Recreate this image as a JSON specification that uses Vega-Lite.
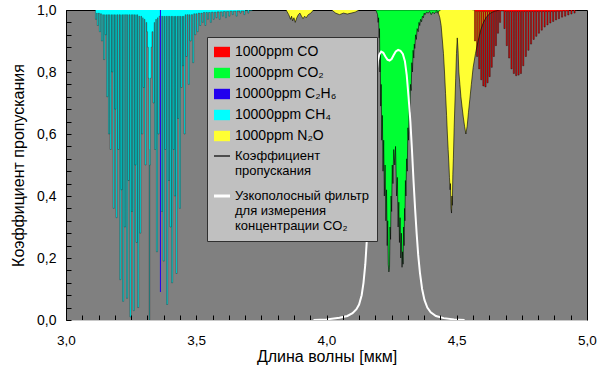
{
  "$schema": "https://vega.github.io/schema/vega-lite/v6.json",
  "width": 521,
  "height": 310,
  "autosize": {"type": "none"},
  "padding": {"left": 66, "top": 10, "right": 13, "bottom": 63},
  "background": "#ffffff",
  "config": {
    "font": "Liberation Sans",
    "view": {"fill": "#808080", "stroke": "#000000", "strokeWidth": 1},
    "axis": {"labelFont": "Liberation Sans", "titleFont": "Liberation Sans", "labelColor": "#000000", "titleColor": "#000000", "grid": false, "labelOverlap": false, "ticks": true}
  },
  "data": {"values": [
    {"g":"CH4","x":3.100,"t":1},
    {"g":"CH4","x":3.113,"t":0.97},{"g":"CH4","x":3.1175,"t":0.99},
    {"g":"CH4","x":3.120,"t":0.95},{"g":"CH4","x":3.1245,"t":0.99},
    {"g":"CH4","x":3.128,"t":0.93},{"g":"CH4","x":3.1325,"t":0.988},
    {"g":"CH4","x":3.136,"t":0.90},{"g":"CH4","x":3.1405,"t":0.985},
    {"g":"CH4","x":3.144,"t":0.84},{"g":"CH4","x":3.1485,"t":0.985},
    {"g":"CH4","x":3.150,"t":0.92},{"g":"CH4","x":3.1545,"t":0.985},
    {"g":"CH4","x":3.156,"t":0.72},{"g":"CH4","x":3.1605,"t":0.985},
    {"g":"CH4","x":3.163,"t":0.60},{"g":"CH4","x":3.1675,"t":0.985},
    {"g":"CH4","x":3.169,"t":0.55},{"g":"CH4","x":3.1735,"t":0.985},
    {"g":"CH4","x":3.175,"t":0.80},{"g":"CH4","x":3.1795,"t":0.985},
    {"g":"CH4","x":3.181,"t":0.36},{"g":"CH4","x":3.1855,"t":0.985},
    {"g":"CH4","x":3.187,"t":0.68},{"g":"CH4","x":3.1915,"t":0.985},
    {"g":"CH4","x":3.192,"t":0.33},{"g":"CH4","x":3.1965,"t":0.985},
    {"g":"CH4","x":3.199,"t":0.55},{"g":"CH4","x":3.2035,"t":0.985},
    {"g":"CH4","x":3.206,"t":0.13},{"g":"CH4","x":3.2105,"t":0.985},
    {"g":"CH4","x":3.211,"t":0.42},{"g":"CH4","x":3.2155,"t":0.985},
    {"g":"CH4","x":3.217,"t":0.06},{"g":"CH4","x":3.2215,"t":0.985},
    {"g":"CH4","x":3.224,"t":0.30},{"g":"CH4","x":3.2285,"t":0.985},
    {"g":"CH4","x":3.232,"t":0.07},{"g":"CH4","x":3.2365,"t":0.985},
    {"g":"CH4","x":3.238,"t":0.45},{"g":"CH4","x":3.2425,"t":0.985},
    {"g":"CH4","x":3.245,"t":0.01},{"g":"CH4","x":3.2495,"t":0.985},
    {"g":"CH4","x":3.251,"t":0.35},{"g":"CH4","x":3.2555,"t":0.985},
    {"g":"CH4","x":3.258,"t":0.03},{"g":"CH4","x":3.2625,"t":0.985},
    {"g":"CH4","x":3.264,"t":0.50},{"g":"CH4","x":3.2685,"t":0.985},
    {"g":"CH4","x":3.269,"t":0.25},{"g":"CH4","x":3.2735,"t":0.985},
    {"g":"CH4","x":3.275,"t":0.04},{"g":"CH4","x":3.2795,"t":0.98},
    {"g":"CH4","x":3.283,"t":0.28},{"g":"CH4","x":3.2875,"t":0.98},
    {"g":"CH4","x":3.290,"t":0.60},{"g":"CH4","x":3.2945,"t":0.975},
    {"g":"CH4","x":3.296,"t":0.75},{"g":"CH4","x":3.3005,"t":0.97},
    {"g":"CH4","x":3.303,"t":0.50},{"g":"CH4","x":3.3075,"t":0.96},
    {"g":"CH4","x":3.310,"t":0.93},{"g":"CH4","x":3.313,"t":0.88},{"g":"CH4","x":3.316,"t":0.78},{"g":"CH4","x":3.3185,"t":0.55},
    {"g":"CH4","x":3.3195,"t":0.0},{"g":"CH4","x":3.3215,"t":0.5},{"g":"CH4","x":3.324,"t":0.78},{"g":"CH4","x":3.327,"t":0.88},{"g":"CH4","x":3.330,"t":0.93},
    {"g":"CH4","x":3.334,"t":0.70},{"g":"CH4","x":3.3385,"t":0.96},
    {"g":"CH4","x":3.340,"t":0.55},{"g":"CH4","x":3.3445,"t":0.97},
    {"g":"CH4","x":3.347,"t":0.22},{"g":"CH4","x":3.3515,"t":0.975},
    {"g":"CH4","x":3.353,"t":0.60},{"g":"CH4","x":3.3575,"t":0.98},
    {"g":"CH4","x":3.366,"t":0.35},{"g":"CH4","x":3.3705,"t":0.98},
    {"g":"CH4","x":3.373,"t":0.19},{"g":"CH4","x":3.3775,"t":0.98},
    {"g":"CH4","x":3.379,"t":0.55},{"g":"CH4","x":3.3835,"t":0.98},
    {"g":"CH4","x":3.386,"t":0.05},{"g":"CH4","x":3.3905,"t":0.98},
    {"g":"CH4","x":3.393,"t":0.45},{"g":"CH4","x":3.3975,"t":0.98},
    {"g":"CH4","x":3.399,"t":0.30},{"g":"CH4","x":3.4035,"t":0.98},
    {"g":"CH4","x":3.405,"t":0.12},{"g":"CH4","x":3.4095,"t":0.98},
    {"g":"CH4","x":3.411,"t":0.55},{"g":"CH4","x":3.4155,"t":0.98},
    {"g":"CH4","x":3.416,"t":0.40},{"g":"CH4","x":3.4205,"t":0.98},
    {"g":"CH4","x":3.422,"t":0.15},{"g":"CH4","x":3.4265,"t":0.98},
    {"g":"CH4","x":3.428,"t":0.65},{"g":"CH4","x":3.4325,"t":0.98},
    {"g":"CH4","x":3.435,"t":0.36},{"g":"CH4","x":3.4395,"t":0.98},
    {"g":"CH4","x":3.441,"t":0.75},{"g":"CH4","x":3.4455,"t":0.98},
    {"g":"CH4","x":3.447,"t":0.82},{"g":"CH4","x":3.4515,"t":0.98},
    {"g":"CH4","x":3.453,"t":0.60},{"g":"CH4","x":3.4575,"t":0.985},
    {"g":"CH4","x":3.460,"t":0.85},{"g":"CH4","x":3.4645,"t":0.985},
    {"g":"CH4","x":3.469,"t":0.76},{"g":"CH4","x":3.4735,"t":0.985},
    {"g":"CH4","x":3.476,"t":0.90},{"g":"CH4","x":3.4805,"t":0.985},
    {"g":"CH4","x":3.486,"t":0.83},{"g":"CH4","x":3.4905,"t":0.988},
    {"g":"CH4","x":3.494,"t":0.92},{"g":"CH4","x":3.4985,"t":0.988},
    {"g":"CH4","x":3.503,"t":0.93},{"g":"CH4","x":3.5075,"t":0.99},
    {"g":"CH4","x":3.513,"t":0.95},{"g":"CH4","x":3.5175,"t":0.99},
    {"g":"CH4","x":3.523,"t":0.96},{"g":"CH4","x":3.527,"t":0.992},
    {"g":"CH4","x":3.533,"t":0.95},{"g":"CH4","x":3.537,"t":0.992},
    {"g":"CH4","x":3.543,"t":0.97},{"g":"CH4","x":3.547,"t":0.992},
    {"g":"CH4","x":3.554,"t":0.96},{"g":"CH4","x":3.558,"t":0.993},
    {"g":"CH4","x":3.565,"t":0.97},{"g":"CH4","x":3.569,"t":0.993},
    {"g":"CH4","x":3.576,"t":0.975},{"g":"CH4","x":3.580,"t":0.994},
    {"g":"CH4","x":3.588,"t":0.97},{"g":"CH4","x":3.592,"t":0.994},
    {"g":"CH4","x":3.600,"t":0.98},{"g":"CH4","x":3.604,"t":0.995},
    {"g":"CH4","x":3.612,"t":0.975},{"g":"CH4","x":3.616,"t":0.995},
    {"g":"CH4","x":3.625,"t":0.98},{"g":"CH4","x":3.629,"t":0.996},
    {"g":"CH4","x":3.638,"t":0.985},{"g":"CH4","x":3.642,"t":0.996},
    {"g":"CH4","x":3.653,"t":0.98},{"g":"CH4","x":3.657,"t":0.997},
    {"g":"CH4","x":3.668,"t":0.99},{"g":"CH4","x":3.672,"t":0.997},
    {"g":"CH4","x":3.683,"t":0.985},{"g":"CH4","x":3.687,"t":0.998},
    {"g":"CH4","x":3.698,"t":0.99},{"g":"CH4","x":3.702,"t":0.998},
    {"g":"CH4","x":3.715,"t":1},

    {"g":"C2H6","x":3.355,"t":1},{"g":"C2H6","x":3.3605,"t":0.09},{"g":"C2H6","x":3.3645,"t":1},{"g":"C2H6","x":3.370,"t":1},

    {"g":"N2O","x":3.845,"t":1},{"g":"N2O","x":3.855,"t":0.985},{"g":"N2O","x":3.862,"t":0.97},{"g":"N2O","x":3.866,"t":0.98},
    {"g":"N2O","x":3.870,"t":0.965},{"g":"N2O","x":3.875,"t":0.975},{"g":"N2O","x":3.880,"t":0.96},{"g":"N2O","x":3.886,"t":0.975},
    {"g":"N2O","x":3.892,"t":0.985},{"g":"N2O","x":3.898,"t":0.99},{"g":"N2O","x":3.904,"t":0.98},{"g":"N2O","x":3.910,"t":0.972},
    {"g":"N2O","x":3.916,"t":0.98},{"g":"N2O","x":3.922,"t":0.975},{"g":"N2O","x":3.930,"t":0.985},{"g":"N2O","x":3.940,"t":0.99},
    {"g":"N2O","x":3.950,"t":1},{"g":"N2O","x":4.020,"t":1},{"g":"N2O","x":4.035,"t":0.99},{"g":"N2O","x":4.050,"t":0.985},
    {"g":"N2O","x":4.065,"t":0.99},{"g":"N2O","x":4.080,"t":0.987},{"g":"N2O","x":4.095,"t":0.99},{"g":"N2O","x":4.110,"t":0.993},
    {"g":"N2O","x":4.125,"t":1},{"g":"N2O","x":4.420,"t":1},
    {"g":"N2O","x":4.428,"t":0.995},{"g":"N2O","x":4.435,"t":0.975},{"g":"N2O","x":4.440,"t":0.95},{"g":"N2O","x":4.445,"t":0.90},
    {"g":"N2O","x":4.449,"t":0.86},{"g":"N2O","x":4.453,"t":0.80},{"g":"N2O","x":4.457,"t":0.73},{"g":"N2O","x":4.461,"t":0.66},
    {"g":"N2O","x":4.464,"t":0.60},{"g":"N2O","x":4.467,"t":0.55},{"g":"N2O","x":4.470,"t":0.50},{"g":"N2O","x":4.472,"t":0.46},
    {"g":"N2O","x":4.4745,"t":0.42},{"g":"N2O","x":4.476,"t":0.44},{"g":"N2O","x":4.478,"t":0.36},{"g":"N2O","x":4.480,"t":0.345},
    {"g":"N2O","x":4.4815,"t":0.40},{"g":"N2O","x":4.483,"t":0.37},{"g":"N2O","x":4.485,"t":0.47},{"g":"N2O","x":4.487,"t":0.52},
    {"g":"N2O","x":4.490,"t":0.62},{"g":"N2O","x":4.493,"t":0.70},{"g":"N2O","x":4.496,"t":0.78},{"g":"N2O","x":4.499,"t":0.86},
    {"g":"N2O","x":4.502,"t":0.91},{"g":"N2O","x":4.505,"t":0.87},{"g":"N2O","x":4.508,"t":0.80},{"g":"N2O","x":4.512,"t":0.76},
    {"g":"N2O","x":4.516,"t":0.72},{"g":"N2O","x":4.520,"t":0.69},{"g":"N2O","x":4.525,"t":0.655},{"g":"N2O","x":4.530,"t":0.625},
    {"g":"N2O","x":4.535,"t":0.60},{"g":"N2O","x":4.540,"t":0.625},{"g":"N2O","x":4.545,"t":0.67},{"g":"N2O","x":4.550,"t":0.71},
    {"g":"N2O","x":4.556,"t":0.76},{"g":"N2O","x":4.563,"t":0.815},{"g":"N2O","x":4.572,"t":0.86},{"g":"N2O","x":4.582,"t":0.90},
    {"g":"N2O","x":4.592,"t":0.935},{"g":"N2O","x":4.601,"t":0.957},{"g":"N2O","x":4.612,"t":0.975},{"g":"N2O","x":4.627,"t":0.989},
    {"g":"N2O","x":4.645,"t":0.996},{"g":"N2O","x":4.666,"t":1},

    {"g":"CO2","x":4.185,"t":1},{"g":"CO2","x":4.190,"t":0.998},{"g":"CO2","x":4.194,"t":0.99},{"g":"CO2","x":4.196,"t":0.985},
    {"g":"CO2","x":4.198,"t":0.96},{"g":"CO2","x":4.200,"t":0.975},{"g":"CO2","x":4.202,"t":0.91},{"g":"CO2","x":4.2035,"t":0.94},
    {"g":"CO2","x":4.205,"t":0.80},{"g":"CO2","x":4.2065,"t":0.86},{"g":"CO2","x":4.208,"t":0.69},{"g":"CO2","x":4.210,"t":0.76},
    {"g":"CO2","x":4.212,"t":0.58},{"g":"CO2","x":4.2145,"t":0.66},{"g":"CO2","x":4.217,"t":0.48},{"g":"CO2","x":4.2195,"t":0.58},
    {"g":"CO2","x":4.222,"t":0.40},{"g":"CO2","x":4.225,"t":0.50},{"g":"CO2","x":4.228,"t":0.32},{"g":"CO2","x":4.2305,"t":0.42},
    {"g":"CO2","x":4.233,"t":0.24},{"g":"CO2","x":4.235,"t":0.32},{"g":"CO2","x":4.237,"t":0.18},{"g":"CO2","x":4.2395,"t":0.155},
    {"g":"CO2","x":4.242,"t":0.17},{"g":"CO2","x":4.244,"t":0.30},{"g":"CO2","x":4.246,"t":0.26},{"g":"CO2","x":4.248,"t":0.40},
    {"g":"CO2","x":4.250,"t":0.35},{"g":"CO2","x":4.2525,"t":0.50},{"g":"CO2","x":4.255,"t":0.44},{"g":"CO2","x":4.258,"t":0.55},
    {"g":"CO2","x":4.262,"t":0.50},{"g":"CO2","x":4.265,"t":0.56},{"g":"CO2","x":4.269,"t":0.40},{"g":"CO2","x":4.272,"t":0.46},
    {"g":"CO2","x":4.275,"t":0.30},{"g":"CO2","x":4.2775,"t":0.38},{"g":"CO2","x":4.280,"t":0.25},{"g":"CO2","x":4.2825,"t":0.33},
    {"g":"CO2","x":4.285,"t":0.20},{"g":"CO2","x":4.2875,"t":0.28},{"g":"CO2","x":4.290,"t":0.17},{"g":"CO2","x":4.292,"t":0.22},
    {"g":"CO2","x":4.294,"t":0.18},{"g":"CO2","x":4.296,"t":0.30},{"g":"CO2","x":4.298,"t":0.24},{"g":"CO2","x":4.2995,"t":0.36},
    {"g":"CO2","x":4.301,"t":0.32},{"g":"CO2","x":4.303,"t":0.45},{"g":"CO2","x":4.305,"t":0.40},{"g":"CO2","x":4.3075,"t":0.52},
    {"g":"CO2","x":4.310,"t":0.48},{"g":"CO2","x":4.3125,"t":0.62},{"g":"CO2","x":4.315,"t":0.58},{"g":"CO2","x":4.3175,"t":0.70},
    {"g":"CO2","x":4.320,"t":0.67},{"g":"CO2","x":4.3225,"t":0.76},{"g":"CO2","x":4.325,"t":0.74},{"g":"CO2","x":4.3275,"t":0.83},
    {"g":"CO2","x":4.330,"t":0.80},{"g":"CO2","x":4.3325,"t":0.87},{"g":"CO2","x":4.335,"t":0.845},{"g":"CO2","x":4.337,"t":0.89},
    {"g":"CO2","x":4.339,"t":0.876},{"g":"CO2","x":4.342,"t":0.92},{"g":"CO2","x":4.345,"t":0.905},{"g":"CO2","x":4.348,"t":0.94},
    {"g":"CO2","x":4.352,"t":0.93},{"g":"CO2","x":4.355,"t":0.96},{"g":"CO2","x":4.358,"t":0.95},{"g":"CO2","x":4.361,"t":0.97},
    {"g":"CO2","x":4.365,"t":0.962},{"g":"CO2","x":4.368,"t":0.98},{"g":"CO2","x":4.372,"t":0.975},{"g":"CO2","x":4.375,"t":0.99},
    {"g":"CO2","x":4.378,"t":0.985},{"g":"CO2","x":4.384,"t":0.993},{"g":"CO2","x":4.390,"t":0.99},{"g":"CO2","x":4.396,"t":0.995},
    {"g":"CO2","x":4.402,"t":0.985},{"g":"CO2","x":4.408,"t":0.993},{"g":"CO2","x":4.414,"t":0.988},{"g":"CO2","x":4.420,"t":0.995},
    {"g":"CO2","x":4.426,"t":0.99},{"g":"CO2","x":4.432,"t":0.997},{"g":"CO2","x":4.438,"t":1},

    {"g":"CO","x":4.560,"t":1},
    {"g":"CO","x":4.568,"t":0.90},{"g":"CO","x":4.5725,"t":0.995},
    {"g":"CO","x":4.576,"t":0.85},{"g":"CO","x":4.5805,"t":0.995},
    {"g":"CO","x":4.584,"t":0.81},{"g":"CO","x":4.5885,"t":0.995},
    {"g":"CO","x":4.592,"t":0.775},{"g":"CO","x":4.5965,"t":0.995},
    {"g":"CO","x":4.600,"t":0.755},{"g":"CO","x":4.6045,"t":0.995},
    {"g":"CO","x":4.608,"t":0.752},{"g":"CO","x":4.6125,"t":0.995},
    {"g":"CO","x":4.616,"t":0.765},{"g":"CO","x":4.6205,"t":0.995},
    {"g":"CO","x":4.624,"t":0.785},{"g":"CO","x":4.6285,"t":0.995},
    {"g":"CO","x":4.632,"t":0.815},{"g":"CO","x":4.6365,"t":0.995},
    {"g":"CO","x":4.640,"t":0.85},{"g":"CO","x":4.6445,"t":0.995},
    {"g":"CO","x":4.648,"t":0.885},{"g":"CO","x":4.6525,"t":0.995},
    {"g":"CO","x":4.656,"t":0.925},{"g":"CO","x":4.6605,"t":0.995},
    {"g":"CO","x":4.664,"t":0.96},{"g":"CO","x":4.6685,"t":0.997},
    {"g":"CO","x":4.681,"t":0.94},{"g":"CO","x":4.6855,"t":0.995},
    {"g":"CO","x":4.690,"t":0.885},{"g":"CO","x":4.6945,"t":0.995},
    {"g":"CO","x":4.699,"t":0.845},{"g":"CO","x":4.7035,"t":0.995},
    {"g":"CO","x":4.708,"t":0.81},{"g":"CO","x":4.7125,"t":0.995},
    {"g":"CO","x":4.717,"t":0.795},{"g":"CO","x":4.7215,"t":0.995},
    {"g":"CO","x":4.726,"t":0.788},{"g":"CO","x":4.7305,"t":0.995},
    {"g":"CO","x":4.735,"t":0.79},{"g":"CO","x":4.7395,"t":0.995},
    {"g":"CO","x":4.744,"t":0.795},{"g":"CO","x":4.7485,"t":0.995},
    {"g":"CO","x":4.753,"t":0.82},{"g":"CO","x":4.7575,"t":0.995},
    {"g":"CO","x":4.763,"t":0.85},{"g":"CO","x":4.7675,"t":0.995},
    {"g":"CO","x":4.773,"t":0.87},{"g":"CO","x":4.7775,"t":0.995},
    {"g":"CO","x":4.783,"t":0.89},{"g":"CO","x":4.7875,"t":0.995},
    {"g":"CO","x":4.793,"t":0.905},{"g":"CO","x":4.7975,"t":0.995},
    {"g":"CO","x":4.803,"t":0.915},{"g":"CO","x":4.8075,"t":0.995},
    {"g":"CO","x":4.813,"t":0.925},{"g":"CO","x":4.8175,"t":0.995},
    {"g":"CO","x":4.824,"t":0.935},{"g":"CO","x":4.8285,"t":0.995},
    {"g":"CO","x":4.835,"t":0.945},{"g":"CO","x":4.8395,"t":0.995},
    {"g":"CO","x":4.846,"t":0.952},{"g":"CO","x":4.8505,"t":0.995},
    {"g":"CO","x":4.857,"t":0.958},{"g":"CO","x":4.8615,"t":0.995},
    {"g":"CO","x":4.868,"t":0.963},{"g":"CO","x":4.8725,"t":0.995},
    {"g":"CO","x":4.879,"t":0.968},{"g":"CO","x":4.8835,"t":0.996},
    {"g":"CO","x":4.890,"t":0.972},{"g":"CO","x":4.8945,"t":0.996},
    {"g":"CO","x":4.902,"t":0.977},{"g":"CO","x":4.9065,"t":0.997},
    {"g":"CO","x":4.914,"t":0.98},{"g":"CO","x":4.9185,"t":0.997},
    {"g":"CO","x":4.926,"t":0.984},{"g":"CO","x":4.9305,"t":0.998},
    {"g":"CO","x":4.938,"t":0.987},{"g":"CO","x":4.9425,"t":0.998},
    {"g":"CO","x":4.950,"t":0.99},{"g":"CO","x":4.9545,"t":0.999},
    {"g":"CO","x":4.962,"t":1},

    {"g":"F","x":3.95,"t":0},{"g":"F","x":4.00,"t":0.002},{"g":"F","x":4.05,"t":0.007},{"g":"F","x":4.08,"t":0.013},
    {"g":"F","x":4.10,"t":0.022},{"g":"F","x":4.115,"t":0.035},{"g":"F","x":4.125,"t":0.05},{"g":"F","x":4.135,"t":0.08},
    {"g":"F","x":4.142,"t":0.12},{"g":"F","x":4.149,"t":0.18},{"g":"F","x":4.155,"t":0.26},{"g":"F","x":4.161,"t":0.35},
    {"g":"F","x":4.167,"t":0.45},{"g":"F","x":4.173,"t":0.55},{"g":"F","x":4.179,"t":0.64},{"g":"F","x":4.185,"t":0.72},
    {"g":"F","x":4.191,"t":0.79},{"g":"F","x":4.197,"t":0.835},{"g":"F","x":4.203,"t":0.857},{"g":"F","x":4.210,"t":0.866},
    {"g":"F","x":4.218,"t":0.862},{"g":"F","x":4.226,"t":0.85},{"g":"F","x":4.234,"t":0.84},{"g":"F","x":4.242,"t":0.837},
    {"g":"F","x":4.250,"t":0.842},{"g":"F","x":4.258,"t":0.855},{"g":"F","x":4.266,"t":0.866},{"g":"F","x":4.275,"t":0.871},
    {"g":"F","x":4.284,"t":0.868},{"g":"F","x":4.293,"t":0.858},{"g":"F","x":4.301,"t":0.835},{"g":"F","x":4.308,"t":0.79},
    {"g":"F","x":4.315,"t":0.72},{"g":"F","x":4.322,"t":0.64},{"g":"F","x":4.328,"t":0.55},{"g":"F","x":4.334,"t":0.45},
    {"g":"F","x":4.340,"t":0.36},{"g":"F","x":4.346,"t":0.28},{"g":"F","x":4.352,"t":0.21},{"g":"F","x":4.359,"t":0.15},
    {"g":"F","x":4.367,"t":0.10},{"g":"F","x":4.376,"t":0.065},{"g":"F","x":4.387,"t":0.04},{"g":"F","x":4.40,"t":0.025},
    {"g":"F","x":4.42,"t":0.013},{"g":"F","x":4.45,"t":0.006},{"g":"F","x":4.49,"t":0.002},{"g":"F","x":4.53,"t":0}
  ]},
  "encoding": {
    "x": {
      "field": "x", "type": "quantitative",
      "scale": {"domain": [3, 5], "nice": false, "zero": false},
      "axis": {
        "values": [3, 3.0625, 3.125, 3.1875, 3.25, 3.3125, 3.375, 3.4375, 3.5, 3.5625, 3.625, 3.6875, 3.75, 3.8125, 3.875, 3.9375, 4, 4.0625, 4.125, 4.1875, 4.25, 4.3125, 4.375, 4.4375, 4.5, 4.5625, 4.625, 4.6875, 4.75, 4.8125, 4.875, 4.9375, 5],
        "labelExpr": "abs(datum.value*2 - round(datum.value*2)) < 0.001 ? replace(format(datum.value, '.1f'), '.', ',') : ''",
        "title": "Длина волны [мкм]",
        "titleFontSize": 16, "titleFontWeight": "normal", "titlePadding": 2,
        "labelFontSize": 13.5, "labelPadding": 18, "labelFlush": false, "labelOverlap": false,
        "ticks": true, "tickSize": -5, "tickWidth": 1, "tickColor": "#000000",
        "domainColor": "#c8c8c8", "zindex": 1
      }
    },
    "y": {
      "field": "t", "type": "quantitative", "stack": null,
      "scale": {"domain": [0, 1], "nice": false, "zero": false},
      "axis": {
        "values": [0, 0.04, 0.08, 0.12, 0.16, 0.2, 0.24, 0.28, 0.32, 0.36, 0.4, 0.44, 0.48, 0.52, 0.56, 0.6, 0.64, 0.68, 0.72, 0.76, 0.8, 0.84, 0.88, 0.92, 0.96, 1],
        "labelExpr": "abs(datum.value*5 - round(datum.value*5)) < 0.001 ? replace(format(datum.value, '.1f'), '.', ',') : ''",
        "title": "Коэффициент пропускания",
        "titleFontSize": 16, "titleFontWeight": "normal", "titlePadding": 10,
        "labelFontSize": 14, "labelPadding": 15, "labelFlush": false, "labelOverlap": false,
        "ticks": true, "tickSize": -5, "tickWidth": 1, "tickColor": "#000000",
        "domainColor": "#000000", "zindex": 1
      }
    }
  },
  "layer": [
    {
      "transform": [{"filter": "datum.g == 'CH4'"}],
      "mark": {"type": "area", "interpolate": "step-after", "clip": true},
      "encoding": {
        "y2": {"datum": 1},
        "color": {
          "field": "g", "type": "nominal",
          "scale": {
            "domain": ["CO", "CO2", "C2H6", "CH4", "N2O", "T", "F"],
            "range": ["#ff0000", "#00ff33", "#2200ee", "#00ffff", "#ffff33", "#000000", "#ffffff"]
          },
          "legend": {
            "orient": "none", "legendX": 141, "legendY": 27,
            "title": null,
            "fillColor": "#c0c0c0", "strokeColor": "#303030", "padding": 8,
            "labelFont": "Liberation Sans", "labelFontSize": 14, "labelColor": "#000000", "labelLimit": 300,
            "symbolType": "M-1,-0.65H1V0.65H-1Z", "symbolSize": 256, "symbolStrokeWidth": 0, "symbolOpacity": 1,
            "rowPadding": 5, "labelOffset": 6,
            "labelExpr": "datum.value == 'CO' ? '1000ppm CO' : datum.value == 'CO2' ? '1000ppm CO₂' : datum.value == 'C2H6' ? '10000ppm C₂H₆' : datum.value == 'CH4' ? '10000ppm CH₄' : datum.value == 'N2O' ? '1000ppm N₂O' : datum.value == 'T' ? ['Коэффициент', 'пропускания'] : ['Узкополосный фильтр', 'для измерения', 'концентрации CO₂']",
            "encode": {
              "symbols": {"update": {
                "shape": {"signal": "datum.value == 'T' || datum.value == 'F' ? 'stroke' : 'M-1,-0.65H1V0.65H-1Z'"},
                "stroke": {"signal": "datum.value == 'T' ? '#000000' : datum.value == 'F' ? '#ffffff' : 'transparent'"},
                "strokeWidth": {"signal": "datum.value == 'F' ? 3 : 1.2"},
                "y": {"signal": "datum.size * 0.5 + (datum.value == 'F' ? 6 : 0)"}
              }},
              "labels": {"update": {
                "fontSize": {"signal": "datum.value == 'T' || datum.value == 'F' ? 13 : 14"},
                "lineHeight": {"value": 15},
                "dy": {"signal": "datum.value == 'F' ? 6 : 0"}
              }}
            }
          }
        }
      }
    },
    {
      "transform": [{"filter": "datum.g == 'CO2' || datum.g == 'N2O'"}],
      "mark": {"type": "area", "interpolate": "linear", "clip": true},
      "encoding": {
        "y2": {"datum": 1},
        "color": {"field": "g", "type": "nominal"}
      }
    },
    {
      "transform": [{"filter": "datum.g == 'CO'"}],
      "mark": {"type": "area", "interpolate": "step-after", "clip": true},
      "encoding": {
        "y2": {"datum": 1},
        "color": {"field": "g", "type": "nominal"}
      }
    },
    {
      "transform": [{"filter": "datum.g == 'CH4'"}],
      "mark": {"type": "line", "interpolate": "step-after", "color": "#000000", "strokeWidth": 0.5, "opacity": 0.6, "clip": true},
      "encoding": {}
    },
    {
      "transform": [{"filter": "datum.g == 'CO'"}],
      "mark": {"type": "line", "interpolate": "step-after", "color": "#000000", "strokeWidth": 0.6, "opacity": 0.65, "clip": true},
      "encoding": {}
    },
    {
      "transform": [{"filter": "datum.g == 'CO2' || datum.g == 'N2O'"}],
      "mark": {"type": "line", "color": "#000000", "strokeWidth": 0.6, "clip": true},
      "encoding": {"detail": {"field": "g", "type": "nominal"}}
    },
    {
      "transform": [{"filter": "datum.g == 'C2H6'"}],
      "mark": {"type": "area", "interpolate": "step-after", "clip": true},
      "encoding": {
        "y2": {"datum": 1},
        "color": {"field": "g", "type": "nominal"}
      }
    },
    {
      "transform": [{"filter": "datum.g == 'F'"}],
      "mark": {"type": "line", "color": "#ffffff", "strokeWidth": 2, "clip": true},
      "encoding": {}
    }
  ]
}
